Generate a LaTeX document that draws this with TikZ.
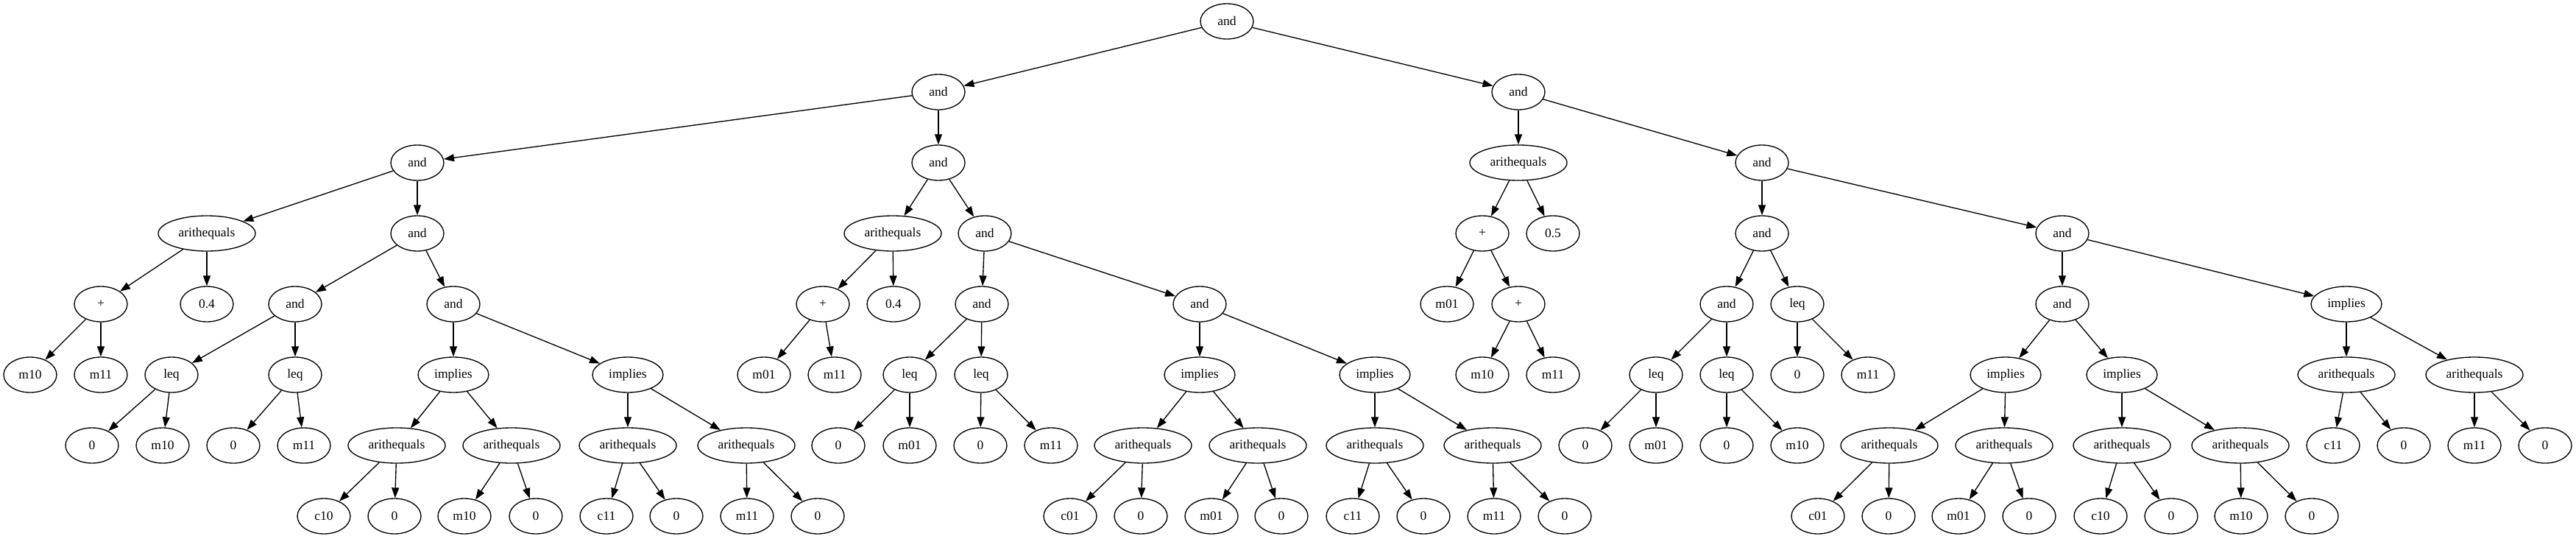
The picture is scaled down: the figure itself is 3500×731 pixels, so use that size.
\documentclass[tikz,border=0pt]{standalone}
\usepackage{fontspec}
\setmainfont{Liberation Serif}
\usepackage{tikz}
\usetikzlibrary{shapes.geometric}
\usetikzlibrary{arrows.meta}

\tikzset{
    oval/.style={ellipse, draw, line width=1.33pt, minimum width=72pt, minimum height=48pt,
        inner sep=0pt, font=\fontsize{17.5}{20}\selectfont},
    ovalmid/.style={oval, minimum width=96pt},
    ovalwide/.style={oval, minimum width=132pt},
    edge/.style={line width=1.33pt, -{Triangle[length=14pt, width=10pt]}}
}

\begin{document}
\begin{tikzpicture}[x=1pt, y=-1pt]
    % Fix the page to the size of the tree
    \useasboundingbox (0,0) rectangle (3500,731);

    % Top of the tree
    \node[oval] (n1) at (1667,29) {and};
    \node[oval] (n2) at (1275,125) {and};
    \node[oval] (n3) at (2063,125) {and};
    \node[oval] (n4) at (567,221) {and};
    \node[oval] (n5) at (1275,221) {and};

    % Left branch of n4
    \node[ovalwide] (n6) at (281,317) {arithequals};
    \node[oval] (n7) at (567,317) {and};
    \node[oval] (n8) at (137,413) {+};
    \node[oval] (n9) at (281,413) {0.4};
    \node[oval] (n10) at (41,509) {m10};
    \node[oval] (n11) at (137,509) {m11};
    \node[oval] (n12) at (401,413) {and};
    \node[oval] (n13) at (616,413) {and};
    \node[oval] (n14) at (233,509) {leq};
    \node[oval] (n15) at (401,509) {leq};
    \node[oval] (n16) at (125,605) {0};
    \node[oval] (n17) at (221,605) {m10};
    \node[oval] (n18) at (317,605) {0};
    \node[oval] (n19) at (413,605) {m11};
    \node[ovalmid] (n20) at (616,509) {implies};
    \node[ovalmid] (n21) at (853,509) {implies};
    \node[ovalwide] (n22) at (539,605) {arithequals};
    \node[ovalwide] (n23) at (695,605) {arithequals};
    \node[oval] (n24) at (440,701) {c10};
    \node[oval] (n25) at (536,701) {0};
    \node[oval] (n26) at (631,701) {m10};
    \node[oval] (n27) at (728,701) {0};
    \node[ovalwide] (n28) at (853,605) {arithequals};
    \node[ovalwide] (n29) at (1014,605) {arithequals};
    \node[oval] (n30) at (824,701) {c11};
    \node[oval] (n31) at (919,701) {0};
    \node[oval] (n32) at (1015,701) {m11};
    \node[oval] (n33) at (1111,701) {0};

    % Branch of n5
    \node[ovalwide] (n34) at (1213,317) {arithequals};
    \node[oval] (n35) at (1338,317) {and};
    \node[oval] (n36) at (1118,413) {+};
    \node[oval] (n37) at (1214,413) {0.4};
    \node[oval] (n38) at (1038,509) {m01};
    \node[oval] (n39) at (1134,509) {m11};
    \node[oval] (n40) at (1334,413) {and};
    \node[oval] (n41) at (1630,413) {and};
    \node[oval] (n42) at (1236,509) {leq};
    \node[oval] (n43) at (1333,509) {leq};
    \node[oval] (n44) at (1139,605) {0};
    \node[oval] (n45) at (1236,605) {m01};
    \node[oval] (n46) at (1332,605) {0};
    \node[oval] (n47) at (1428,605) {m11};
    \node[ovalmid] (n48) at (1630,509) {implies};
    \node[ovalmid] (n49) at (1868,509) {implies};
    \node[ovalwide] (n50) at (1553,605) {arithequals};
    \node[ovalwide] (n51) at (1709,605) {arithequals};
    \node[oval] (n52) at (1454,701) {c01};
    \node[oval] (n53) at (1550,701) {0};
    \node[oval] (n54) at (1646,701) {m01};
    \node[oval] (n55) at (1741,701) {0};
    \node[ovalwide] (n56) at (1868,605) {arithequals};
    \node[ovalwide] (n57) at (2028,605) {arithequals};
    \node[oval] (n58) at (1838,701) {c11};
    \node[oval] (n59) at (1934,701) {0};
    \node[oval] (n60) at (2030,701) {m11};
    \node[oval] (n61) at (2126,701) {0};

    % Right branch of the root
    \node[ovalwide] (n62) at (2063,221) {arithequals};
    \node[oval] (n63) at (2394,221) {and};
    \node[oval] (n64) at (2014,317) {+};
    \node[oval] (n65) at (2110,317) {0.5};
    \node[oval] (n66) at (1966,413) {m01};
    \node[oval] (n67) at (2063,413) {+};
    \node[oval] (n68) at (2014,509) {m10};
    \node[oval] (n69) at (2110,509) {m11};
    \node[oval] (n70) at (2394,317) {and};
    \node[oval] (n71) at (2802,317) {and};
    \node[oval] (n72) at (2346,413) {and};
    \node[oval] (n73) at (2442,413) {leq};
    \node[oval] (n74) at (2250,509) {leq};
    \node[oval] (n75) at (2346,509) {leq};
    \node[oval] (n76) at (2154,605) {0};
    \node[oval] (n77) at (2250,605) {m01};
    \node[oval] (n78) at (2346,605) {0};
    \node[oval] (n79) at (2442,605) {m10};
    \node[oval] (n80) at (2442,509) {0};
    \node[oval] (n81) at (2538,509) {m11};
    \node[oval] (n82) at (2802,413) {and};
    \node[ovalmid] (n83) at (3188,413) {implies};
    \node[ovalmid] (n84) at (2725,509) {implies};
    \node[ovalmid] (n85) at (2883,509) {implies};
    \node[ovalwide] (n86) at (2567,605) {arithequals};
    \node[ovalwide] (n87) at (2723,605) {arithequals};
    \node[oval] (n88) at (2470,701) {c01};
    \node[oval] (n89) at (2566,701) {0};
    \node[oval] (n90) at (2661,701) {m01};
    \node[oval] (n91) at (2757,701) {0};
    \node[ovalwide] (n92) at (2883,605) {arithequals};
    \node[ovalwide] (n93) at (3044,605) {arithequals};
    \node[oval] (n94) at (2854,701) {c10};
    \node[oval] (n95) at (2950,701) {0};
    \node[oval] (n96) at (3045,701) {m10};
    \node[oval] (n97) at (3141,701) {0};
    \node[ovalwide] (n98) at (3188,509) {arithequals};
    \node[ovalwide] (n99) at (3362,509) {arithequals};
    \node[oval] (n100) at (3170,605) {c11};
    \node[oval] (n101) at (3266,605) {0};
    \node[oval] (n102) at (3362,605) {m11};
    \node[oval] (n103) at (3458,605) {0};

    % Draw the edges from parent to child
    \foreach \a/\b in {1/2, 1/3, 2/4, 2/5, 4/6, 4/7, 6/8, 6/9, 8/10, 8/11,
        7/12, 7/13, 12/14, 12/15, 14/16, 14/17, 15/18, 15/19, 13/20, 13/21,
        20/22, 20/23, 22/24, 22/25, 23/26, 23/27, 21/28, 21/29, 28/30, 28/31,
        29/32, 29/33,
        5/34, 5/35, 34/36, 34/37, 36/38, 36/39, 35/40, 35/41, 40/42, 40/43,
        42/44, 42/45, 43/46, 43/47, 41/48, 41/49, 48/50, 48/51, 50/52, 50/53,
        51/54, 51/55, 49/56, 49/57, 56/58, 56/59, 57/60, 57/61,
        3/62, 3/63, 62/64, 62/65, 64/66, 64/67, 67/68, 67/69, 63/70, 63/71,
        70/72, 70/73, 72/74, 72/75, 74/76, 74/77, 75/78, 75/79, 73/80, 73/81,
        71/82, 71/83, 82/84, 82/85, 84/86, 84/87, 86/88, 86/89, 87/90, 87/91,
        85/92, 85/93, 92/94, 92/95, 93/96, 93/97, 83/98, 83/99, 98/100, 98/101,
        99/102, 99/103}
    {
        \draw[edge] (n\a) -- (n\b);
    }
\end{tikzpicture}
\end{document}
